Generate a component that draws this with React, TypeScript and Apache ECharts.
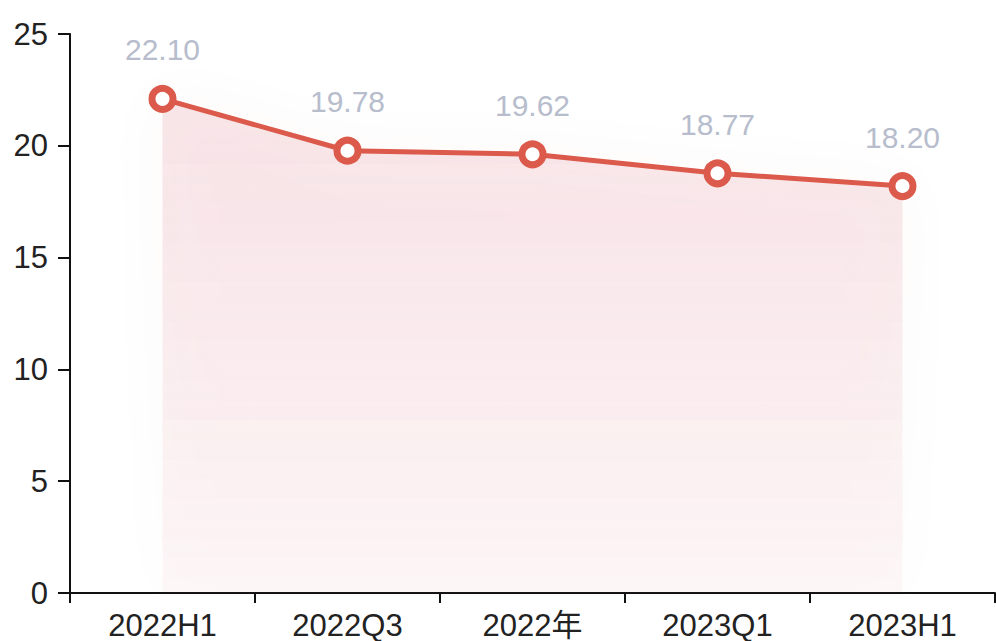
import React, { useEffect, useRef } from "react";
import * as echarts from "echarts";

const categories = ["2022H1", "2022Q3", "2022年", "2023Q1", "2023H1"];
const values = [22.1, 19.78, 19.62, 18.77, 18.2];
const yTicks = { min: 0, max: 25, interval: 5 };

export default function App() {
  const ref = useRef<HTMLDivElement>(null);
  useEffect(() => {
    if (!ref.current) return;
    const chart = echarts.init(ref.current, null, { renderer: "svg" });
    const font = '"Liberation Sans", Arial, "Noto Sans CJK SC", sans-serif';
    chart.setOption({
      animation: false,
      grid: { left: 70, right: 1, top: 34, bottom: 46, containLabel: false },
      xAxis: {
        type: "category",
        data: categories,
        boundaryGap: true,
        axisLine: { lineStyle: { color: "#111", width: 2 } },
        axisTick: { show: true, length: 10, lineStyle: { color: "#111", width: 2 } },
        axisLabel: { color: "#222", fontSize: 31, fontFamily: font, margin: 17 },
        splitLine: { show: false },
      },
      yAxis: {
        type: "value",
        min: yTicks.min,
        max: yTicks.max,
        interval: yTicks.interval,
        axisLine: { show: true, lineStyle: { color: "#111", width: 2 } },
        axisTick: { show: true, length: 12, lineStyle: { color: "#111", width: 2 } },
        axisLabel: { color: "#222", fontSize: 31, fontFamily: font, margin: 22 },
        splitLine: { show: false },
      },
      series: [
        {
          type: "line",
          data: values,
          symbol: "circle",
          symbolSize: 21,
          lineStyle: { color: "#dc5a4b", width: 5 },
          itemStyle: { color: "#ffffff", borderColor: "#dc5a4b", borderWidth: 7 },
          label: {
            show: true,
            position: "top",
            distance: 20,
            formatter: (p: any) => p.value.toFixed(2),
            color: "#b7bdcc",
            fontSize: 30,
            fontFamily: font,
          },
          areaStyle: {
            color: new echarts.graphic.LinearGradient(0, 0, 0, 1, [
              { offset: 0, color: "rgba(205,80,95,0.2)" },
              { offset: 1, color: "rgba(205,80,95,0.06)" },
            ]),
            shadowColor: "rgba(205,80,95,0.22)",
            shadowBlur: 60,
          },
        },
      ],
    });
    return () => chart.dispose();
  }, []);
  return <div ref={ref} style={{ width: 996, height: 641, position: "absolute", left: 0, top: 0, background: "#fff" }} />;
}
